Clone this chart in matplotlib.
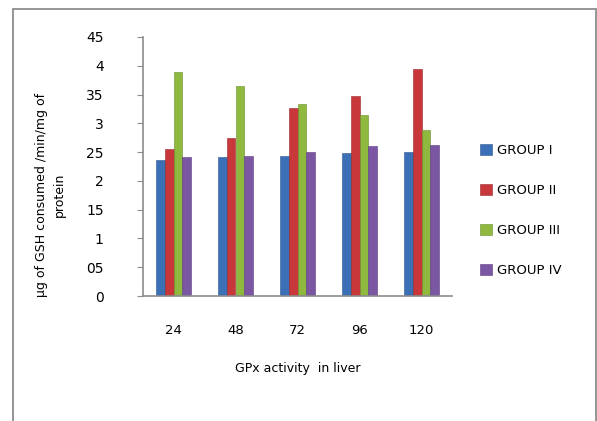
import matplotlib
matplotlib.use("Agg")
import matplotlib.pyplot as plt
import numpy as np

# data
hours = ["24", "48", "72", "96", "120"]
group_1 = [2.37, 2.41, 2.44, 2.48, 2.51]
group_2 = [2.56, 2.74, 3.26, 3.48, 3.94]
group_3 = [3.90, 3.64, 3.34, 3.15, 2.89]
group_4 = [2.41, 2.44, 2.51, 2.60, 2.63]
group_names = ["GROUP I", "GROUP II", "GROUP III", "GROUP IV"]
y_ticks = [0, 0.5, 1, 1.5, 2, 2.5, 3, 3.5, 4, 4.5]
y_tick_labels = ["0", "05", "1", "15", "2", "25", "3", "35", "4", "45"]

colors = ["#3b6fb6", "#c8383a", "#8fb83e", "#7a56a3"]
edges = ["#2b5590", "#962628", "#6a8c2a", "#5a3d7f"]

fig = plt.figure(figsize=(5.97, 4.21), dpi=100)

# outer frame of the chart area
frame = plt.Rectangle((12.5 / 597, -0.05), (595.5 - 12.5) / 597, 1.05 - 9 / 421,
                      transform=fig.transFigure, fill=False,
                      edgecolor="#8c8c8c", linewidth=1.3)
fig.patches.append(frame)

ax = fig.add_axes([142.5 / 597, 125 / 421, 310 / 597, 259 / 421])

x = np.arange(len(hours))
w = 0.141
series = [group_1, group_2, group_3, group_4]
for i, vals in enumerate(series):
    ax.bar(x + (i - 1.5) * w, vals, width=w, color=colors[i],
           edgecolor=edges[i], linewidth=0.4, label=group_names[i])

ax.set_xlim(-0.5, len(hours) - 0.5)
ax.set_ylim(0, 4.5)
ax.set_yticks(y_ticks)
ax.set_yticklabels(y_tick_labels, fontsize=10)
ax.set_xticks(x)
ax.set_xticklabels(hours, fontsize=9.5)
ax.tick_params(axis="x", length=0, pad=20)
ax.tick_params(axis="y", length=4, color="#8c8c8c", pad=24)

for s in ["top", "right"]:
    ax.spines[s].set_visible(False)
ax.spines["left"].set_color("#8c8c8c")
ax.spines["bottom"].set_color("#8c8c8c")
ax.spines["left"].set_linewidth(1.2)
ax.spines["bottom"].set_linewidth(1.2)

ax.set_xlabel("GPx activity  in liver", fontsize=9, labelpad=18)
fig.text(50 / 597, 1 - 195 / 421, "\u00b5g of GSH consumed /min/mg of\nprotein",
         rotation=90, ha="center", va="center", fontsize=9, linespacing=1.5)

leg = ax.legend(loc="center left", bbox_to_anchor=(1.05, 0.33), frameon=False,
                fontsize=9.5, handlelength=0.9, handleheight=0.9,
                labelspacing=2.05, handletextpad=0.4)

fig.savefig("out.png", dpi=100)
